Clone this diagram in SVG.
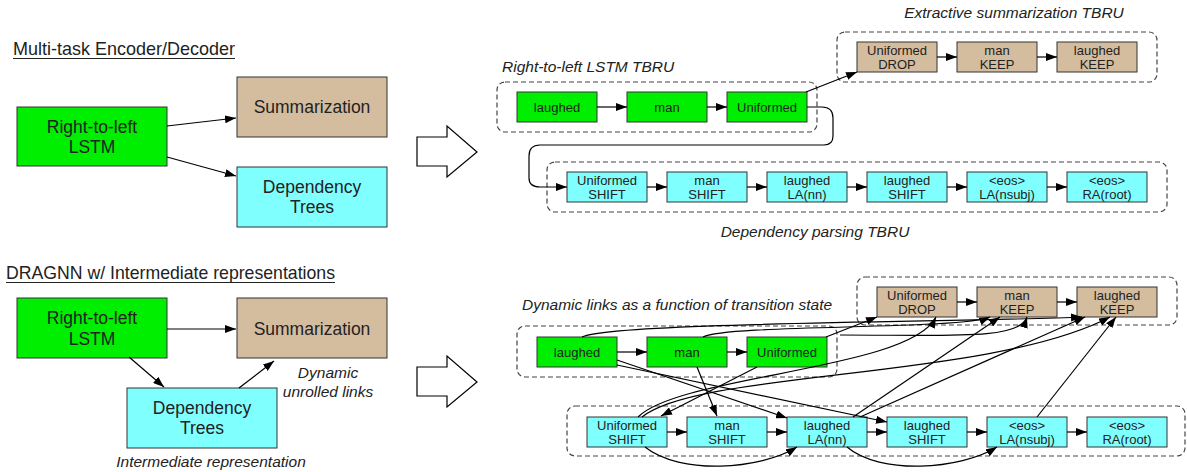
<svg xmlns="http://www.w3.org/2000/svg" width="1187" height="472" viewBox="0 0 1187 472">
<defs>
<marker id="ah" markerUnits="userSpaceOnUse" markerWidth="11" markerHeight="8" refX="11" refY="4" orient="auto">
<path d="M0,0 L11,4 L0,8 z" fill="#000"/>
</marker>
<style>
text{font-family:"Liberation Sans",Arial,sans-serif;fill:#222}
.big{font-size:17.5px;text-anchor:middle}
.sm{font-size:13px;text-anchor:middle}
.it{font-size:15.5px;font-style:italic}
.title{font-size:17.8px}
.g{fill:#00ee00;stroke:#333;stroke-width:1}
.t{fill:#d4bc9f;stroke:#333;stroke-width:1}
.c{fill:#80ffff;stroke:#333;stroke-width:1}
.dash{fill:none;stroke:#444;stroke-width:1.2;stroke-dasharray:5,3}
.ln{fill:none;stroke:#000;stroke-width:1.2}
.arr{fill:none;stroke:#000;stroke-width:1.2;marker-end:url(#ah)}
.hollow{fill:#fff;stroke:#000;stroke-width:1.2}
</style>
</defs>

<!-- Titles -->
<text class="title" x="13" y="55" textLength="222" lengthAdjust="spacingAndGlyphs">Multi-task Encoder/Decoder</text>
<line x1="13" y1="58.5" x2="235" y2="58.5" stroke="#222" stroke-width="1"/>
<text class="title" x="6" y="279" textLength="329" lengthAdjust="spacingAndGlyphs">DRAGNN w/ Intermediate representations</text>
<line x1="6" y1="282.5" x2="335" y2="282.5" stroke="#222" stroke-width="1"/>

<!-- Top-left nodes -->
<g id="tl-lstm"><rect class="g" x="17" y="107" width="150" height="59"/><text class="big" x="92" y="133">Right-to-left</text><text class="big" x="92" y="153">LSTM</text></g>
<g id="tl-summ"><rect class="t" x="237" y="77" width="150" height="60"/><text class="big" x="312" y="113">Summarization</text></g>
<g id="tl-dep"><rect class="c" x="237" y="167" width="150" height="60"/><text class="big" x="312" y="193">Dependency</text><text class="big" x="312" y="213">Trees</text></g>

<!-- Bottom-left nodes -->
<g id="bl-lstm"><rect class="g" x="17" y="298" width="150" height="60"/><text class="big" x="92" y="324">Right-to-left</text><text class="big" x="92" y="345">LSTM</text></g>
<g id="bl-summ"><rect class="t" x="237" y="298" width="150" height="60"/><text class="big" x="312" y="335">Summarization</text></g>
<g id="bl-dep"><rect class="c" x="127" y="388" width="150" height="60"/><text class="big" x="202" y="414">Dependency</text><text class="big" x="202" y="434">Trees</text></g>
<text class="it" x="328" y="378" text-anchor="middle">Dynamic</text>
<text class="it" x="328" y="397" text-anchor="middle">unrolled links</text>
<text class="it" x="211" y="467" text-anchor="middle">Intermediate representation</text>

<!-- Hollow arrows -->
<g id="bigarrow1"><polygon class="hollow" points="417,137 447,137 447,126 477,152 447,177 447,166 417,166"/></g>
<g id="bigarrow2"><polygon class="hollow" points="417,367 447,367 447,356 477,382 447,407 447,396 417,396"/></g>

<!-- Top-right -->
<text class="it" x="502" y="72">Right-to-left LSTM TBRU</text>
<text class="it" x="1014" y="18" text-anchor="middle">Extractive summarization TBRU</text>
<text class="it" x="815" y="237" text-anchor="middle">Dependency parsing TBRU</text>
<rect class="dash" x="497" y="82" width="320" height="50" rx="8"/>
<rect class="dash" x="837" y="32" width="320" height="50" rx="8"/>
<rect class="dash" x="547" y="162" width="620" height="50" rx="8"/>

<g id="tr-laughed"><rect class="g" x="517" y="92" width="80" height="30"/><text class="sm" x="557" y="111.5">laughed</text></g>
<g id="tr-man"><rect class="g" x="627" y="92" width="80" height="30"/><text class="sm" x="667" y="111.5">man</text></g>
<g id="tr-uniformed"><rect class="g" x="727" y="92" width="80" height="30"/><text class="sm" x="767" y="111.5">Uniformed</text></g>

<g id="tr-drop"><rect class="t" x="857" y="42" width="80" height="30"/><text class="sm" x="897" y="54.5">Uniformed</text><text class="sm" x="897" y="68.5">DROP</text></g>
<g id="tr-mankeep"><rect class="t" x="957" y="42" width="80" height="30"/><text class="sm" x="997" y="54.5">man</text><text class="sm" x="997" y="68.5">KEEP</text></g>
<g id="tr-laughedkeep"><rect class="t" x="1057" y="42" width="80" height="30"/><text class="sm" x="1097" y="54.5">laughed</text><text class="sm" x="1097" y="68.5">KEEP</text></g>

<g id="tr-d1"><rect class="c" x="567" y="172" width="80" height="30"/><text class="sm" x="607" y="184.5">Uniformed</text><text class="sm" x="607" y="198.5">SHIFT</text></g>
<g id="tr-d2"><rect class="c" x="667" y="172" width="80" height="30"/><text class="sm" x="707" y="184.5">man</text><text class="sm" x="707" y="198.5">SHIFT</text></g>
<g id="tr-d3"><rect class="c" x="767" y="172" width="80" height="30"/><text class="sm" x="807" y="184.5">laughed</text><text class="sm" x="807" y="198.5">LA(nn)</text></g>
<g id="tr-d4"><rect class="c" x="867" y="172" width="80" height="30"/><text class="sm" x="907" y="184.5">laughed</text><text class="sm" x="907" y="198.5">SHIFT</text></g>
<g id="tr-d5"><rect class="c" x="967" y="172" width="80" height="30"/><text class="sm" x="1007" y="184.5">&lt;eos&gt;</text><text class="sm" x="1007" y="198.5">LA(nsubj)</text></g>
<g id="tr-d6"><rect class="c" x="1067" y="172" width="80" height="30"/><text class="sm" x="1107" y="184.5">&lt;eos&gt;</text><text class="sm" x="1107" y="198.5">RA(root)</text></g>

<!-- Bottom-right -->
<text class="it" x="522" y="310">Dynamic links as a function of transition state</text>
<rect class="dash" x="517" y="326" width="320" height="51" rx="8"/>
<rect class="dash" x="857" y="277" width="320" height="48" rx="8"/>
<rect class="dash" x="567" y="406" width="618" height="50" rx="8"/>

<g id="br-laughed"><rect class="g" x="537" y="337" width="80" height="30"/><text class="sm" x="577" y="356.5">laughed</text></g>
<g id="br-man"><rect class="g" x="647" y="337" width="80" height="30"/><text class="sm" x="687" y="356.5">man</text></g>
<g id="br-uniformed"><rect class="g" x="747" y="337" width="80" height="30"/><text class="sm" x="787" y="356.5">Uniformed</text></g>

<g id="br-drop"><rect class="t" x="877" y="287" width="80" height="30"/><text class="sm" x="917" y="299.5">Uniformed</text><text class="sm" x="917" y="313.5">DROP</text></g>
<g id="br-mankeep"><rect class="t" x="977" y="287" width="80" height="30"/><text class="sm" x="1017" y="299.5">man</text><text class="sm" x="1017" y="313.5">KEEP</text></g>
<g id="br-laughedkeep"><rect class="t" x="1077" y="287" width="80" height="30"/><text class="sm" x="1117" y="299.5">laughed</text><text class="sm" x="1117" y="313.5">KEEP</text></g>

<g id="br-d1"><rect class="c" x="587" y="417" width="80" height="30"/><text class="sm" x="627" y="429.5">Uniformed</text><text class="sm" x="627" y="443.5">SHIFT</text></g>
<g id="br-d2"><rect class="c" x="687" y="417" width="80" height="30"/><text class="sm" x="727" y="429.5">man</text><text class="sm" x="727" y="443.5">SHIFT</text></g>
<g id="br-d3"><rect class="c" x="787" y="417" width="80" height="30"/><text class="sm" x="827" y="429.5">laughed</text><text class="sm" x="827" y="443.5">LA(nn)</text></g>
<g id="br-d4"><rect class="c" x="887" y="417" width="80" height="30"/><text class="sm" x="927" y="429.5">laughed</text><text class="sm" x="927" y="443.5">SHIFT</text></g>
<g id="br-d5"><rect class="c" x="987" y="417" width="80" height="30"/><text class="sm" x="1027" y="429.5">&lt;eos&gt;</text><text class="sm" x="1027" y="443.5">LA(nsubj)</text></g>
<g id="br-d6"><rect class="c" x="1087" y="417" width="80" height="30"/><text class="sm" x="1127" y="429.5">&lt;eos&gt;</text><text class="sm" x="1127" y="443.5">RA(root)</text></g>

<g id="connectors">
<!-- top-left -->
<line class="arr" x1="167" y1="126" x2="236" y2="118"/>
<line class="arr" x1="167" y1="157" x2="236" y2="176"/>
<!-- bottom-left -->
<line class="arr" x1="167" y1="329" x2="236" y2="329"/>
<line class="arr" x1="129" y1="357" x2="164" y2="387"/>
<line class="arr" x1="239" y1="388" x2="274" y2="361"/>
<!-- top-right chains -->
<line class="arr" x1="597" y1="107" x2="627" y2="107"/>
<line class="arr" x1="707" y1="107" x2="727" y2="107"/>
<line class="arr" x1="937" y1="57" x2="957" y2="57"/>
<line class="arr" x1="1037" y1="57" x2="1057" y2="57"/>
<line class="arr" x1="647" y1="187" x2="667" y2="187"/>
<line class="arr" x1="747" y1="187" x2="767" y2="187"/>
<line class="arr" x1="847" y1="187" x2="867" y2="187"/>
<line class="arr" x1="947" y1="187" x2="967" y2="187"/>
<line class="arr" x1="1047" y1="187" x2="1067" y2="187"/>
<line class="arr" x1="806" y1="92" x2="857" y2="72"/>
<path class="arr" d="M807,107 L822,107 Q833,107 833,118 L833,136 Q833,145 824,145 L540,145 Q529,145 529,156 L529,178 Q529,187 540,187 L567,187"/>
<!-- bottom-right chains -->
<line class="arr" x1="617" y1="352" x2="647" y2="352"/>
<line class="arr" x1="727" y1="352" x2="747" y2="352"/>
<line class="arr" x1="957" y1="302" x2="977" y2="302"/>
<line class="arr" x1="1057" y1="302" x2="1077" y2="302"/>
<line class="arr" x1="667" y1="432" x2="687" y2="432"/>
<line class="arr" x1="767" y1="432" x2="787" y2="432"/>
<line class="arr" x1="867" y1="432" x2="887" y2="432"/>
<line class="arr" x1="967" y1="432" x2="987" y2="432"/>
<line class="arr" x1="1067" y1="432" x2="1087" y2="432"/>
<!-- dynamic links -->
<line class="arr" x1="826" y1="337" x2="877" y2="317"/>
<path class="arr" d="M582,337 C610,322 980,322 1082,317"/>
<path class="arr" d="M703,337 C730,324 960,330 990,317"/>
<line class="arr" x1="617" y1="360" x2="787" y2="418"/>
<line class="arr" x1="617" y1="365" x2="887" y2="422"/>
<line class="arr" x1="697" y1="367" x2="717" y2="416"/>
<line class="arr" x1="757" y1="367" x2="661" y2="416"/>
<path class="arr" d="M638,417 C680,375 910,370 936,317"/>
<path class="arr" d="M642,417 C700,370 990,380 1110,317"/>
<path class="arr" d="M840,335 C950,335 1020,340 1027,317"/>
<line class="arr" x1="853" y1="417" x2="1000" y2="317"/>
<line class="arr" x1="860" y1="417" x2="1085" y2="317"/>
<line class="arr" x1="1037" y1="417" x2="1116" y2="317"/>
<path class="arr" d="M645,447 C680,475 760,470 797,447"/>
<path class="arr" d="M847,447 C880,475 960,470 997,447"/>
</g>
</svg>
